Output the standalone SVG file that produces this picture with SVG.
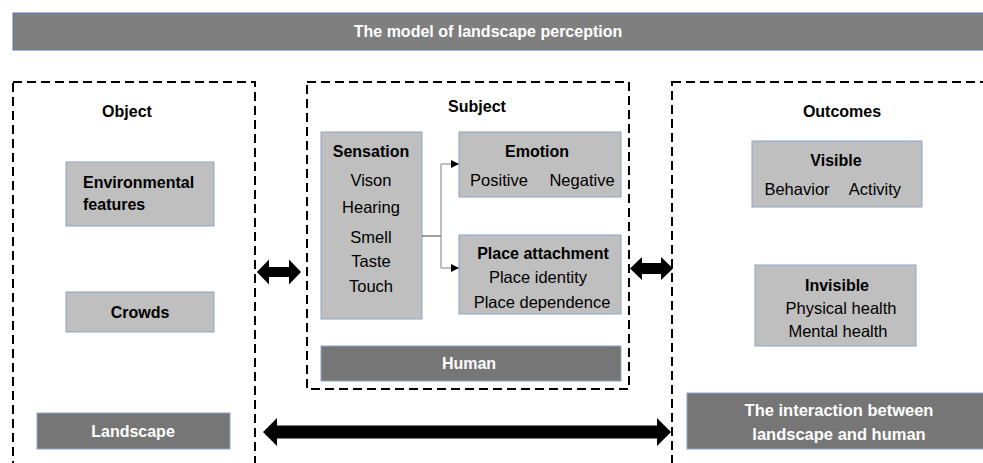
<svg xmlns="http://www.w3.org/2000/svg" width="983" height="463" viewBox="0 0 983 463">
  <style>
    .frame { fill: none; stroke: #000; stroke-width: 2; stroke-dasharray: 9 5; }
    .box { fill: #bfbfbf; stroke: #8ea5c6; stroke-width: 1; }
    .bar { fill: #767676; stroke: #8ea5c6; stroke-width: 1; }
    .head { fill: #7f7f7f; stroke: #5b7bb0; stroke-width: 1; }
    text { font-family: "Liberation Sans", Arial, sans-serif; fill: #000; }
    .t { font-size: 16px; font-weight: bold; text-anchor: middle; }
    .b { font-size: 16px; font-weight: bold; }
    .w { font-size: 16px; font-weight: bold; fill: #fff; text-anchor: middle; }
    .n { font-size: 16.5px; text-anchor: middle; }
    .link { fill: none; stroke: #808080; stroke-width: 1; }
    .big { fill: #000; }
  </style>
  <defs>
    <marker id="tip" viewBox="0 0 10 10" refX="10" refY="5" markerWidth="8" markerHeight="8" markerUnits="userSpaceOnUse" orient="auto">
      <path d="M0,0 L10,5 L0,10 z" fill="#000"/>
    </marker>
  </defs>

  <!-- title banner -->
  <g id="title">
    <rect class="head" x="13" y="13" width="975" height="37"/>
    <text class="w" x="488" y="37">The model of landscape perception</text>
  </g>

  <!-- object column -->
  <g id="object">
    <rect class="frame" x="13" y="82" width="242" height="400"/>
    <text class="t" x="127" y="117">Object</text>
  </g>
  <g id="environmental-features">
    <rect class="box" x="66" y="162" width="148" height="64"/>
    <text class="b" x="83" y="188">Environmental</text>
    <text class="b" x="83" y="210">features</text>
  </g>
  <g id="crowds">
    <rect class="box" x="66" y="292" width="148" height="40"/>
    <text class="t" x="140" y="318">Crowds</text>
  </g>
  <g id="landscape">
    <rect class="bar" x="37" y="413" width="193" height="36"/>
    <text class="w" x="133" y="437">Landscape</text>
  </g>

  <!-- subject column -->
  <g id="subject">
    <rect class="frame" x="307" y="82" width="322" height="307"/>
    <text class="t" x="477" y="112">Subject</text>
  </g>
  <g id="sensation">
    <rect class="box" x="321" y="132" width="101" height="187"/>
    <text class="t" x="371" y="157">Sensation</text>
    <text class="n" x="371" y="186">Vison</text>
    <text class="n" x="371" y="213">Hearing</text>
    <text class="n" x="371" y="243">Smell</text>
    <text class="n" x="371" y="267">Taste</text>
    <text class="n" x="371" y="292">Touch</text>
  </g>
  <g id="emotion">
    <rect class="box" x="459" y="132" width="162" height="65"/>
    <text class="t" x="537" y="157">Emotion</text>
    <text class="n" x="499" y="186">Positive</text>
    <text class="n" x="582" y="186">Negative</text>
  </g>
  <g id="place-attachment">
    <rect class="box" x="459" y="235" width="162" height="79"/>
    <text class="t" x="543" y="259">Place attachment</text>
    <text class="n" x="538" y="283">Place identity</text>
    <text class="n" x="542" y="308">Place dependence</text>
  </g>
  <g id="human">
    <rect class="bar" x="321" y="346" width="300" height="35"/>
    <text class="w" x="469" y="369">Human</text>
  </g>

  <!-- outcomes column -->
  <g id="outcomes">
    <rect class="frame" x="672" y="82" width="330" height="400"/>
    <text class="t" x="842" y="117">Outcomes</text>
  </g>
  <g id="visible">
    <rect class="box" x="752" y="141" width="170" height="66"/>
    <text class="t" x="836" y="166">Visible</text>
    <text class="n" x="797" y="195">Behavior</text>
    <text class="n" x="875" y="195">Activity</text>
  </g>
  <g id="invisible">
    <rect class="box" x="755" y="265" width="161" height="81"/>
    <text class="t" x="837" y="291">Invisible</text>
    <text class="n" x="841" y="314">Physical health</text>
    <text class="n" x="838" y="337">Mental health</text>
  </g>
  <g id="interaction">
    <rect class="bar" x="687" y="393" width="300" height="56"/>
    <text class="w" x="839" y="416" style="font-size:16.5px">The interaction between</text>
    <text class="w" x="839" y="440" style="font-size:16.5px">landscape and human</text>
  </g>

  <!-- connectors -->
  <g id="connectors">
    <path d="M422,236 H441" fill="none" stroke="#404040" stroke-width="1"/>
    <path class="link" d="M441,236 V164 H459" marker-end="url(#tip)"/>
    <path class="link" d="M441,236 V268 H459" marker-end="url(#tip)"/>
    <!-- object <-> subject -->
    <path class="big" d="M257,272 L269,259.5 L269,267 L289,267 L289,259.5 L301,272 L289,284.5 L289,277 L269,277 L269,284.5 Z"/>
    <!-- subject <-> outcomes -->
    <path class="big" d="M630,268.5 L642,257 L642,263 L661,263 L661,257 L673,268.5 L661,280 L661,274 L642,274 L642,280 Z"/>
    <!-- landscape <-> interaction -->
    <path class="big" d="M263,432 L277,418 L277,425.5 L657,425.5 L657,418 L671,432 L657,446 L657,438.5 L277,438.5 L277,446 Z"/>
  </g>
</svg>
